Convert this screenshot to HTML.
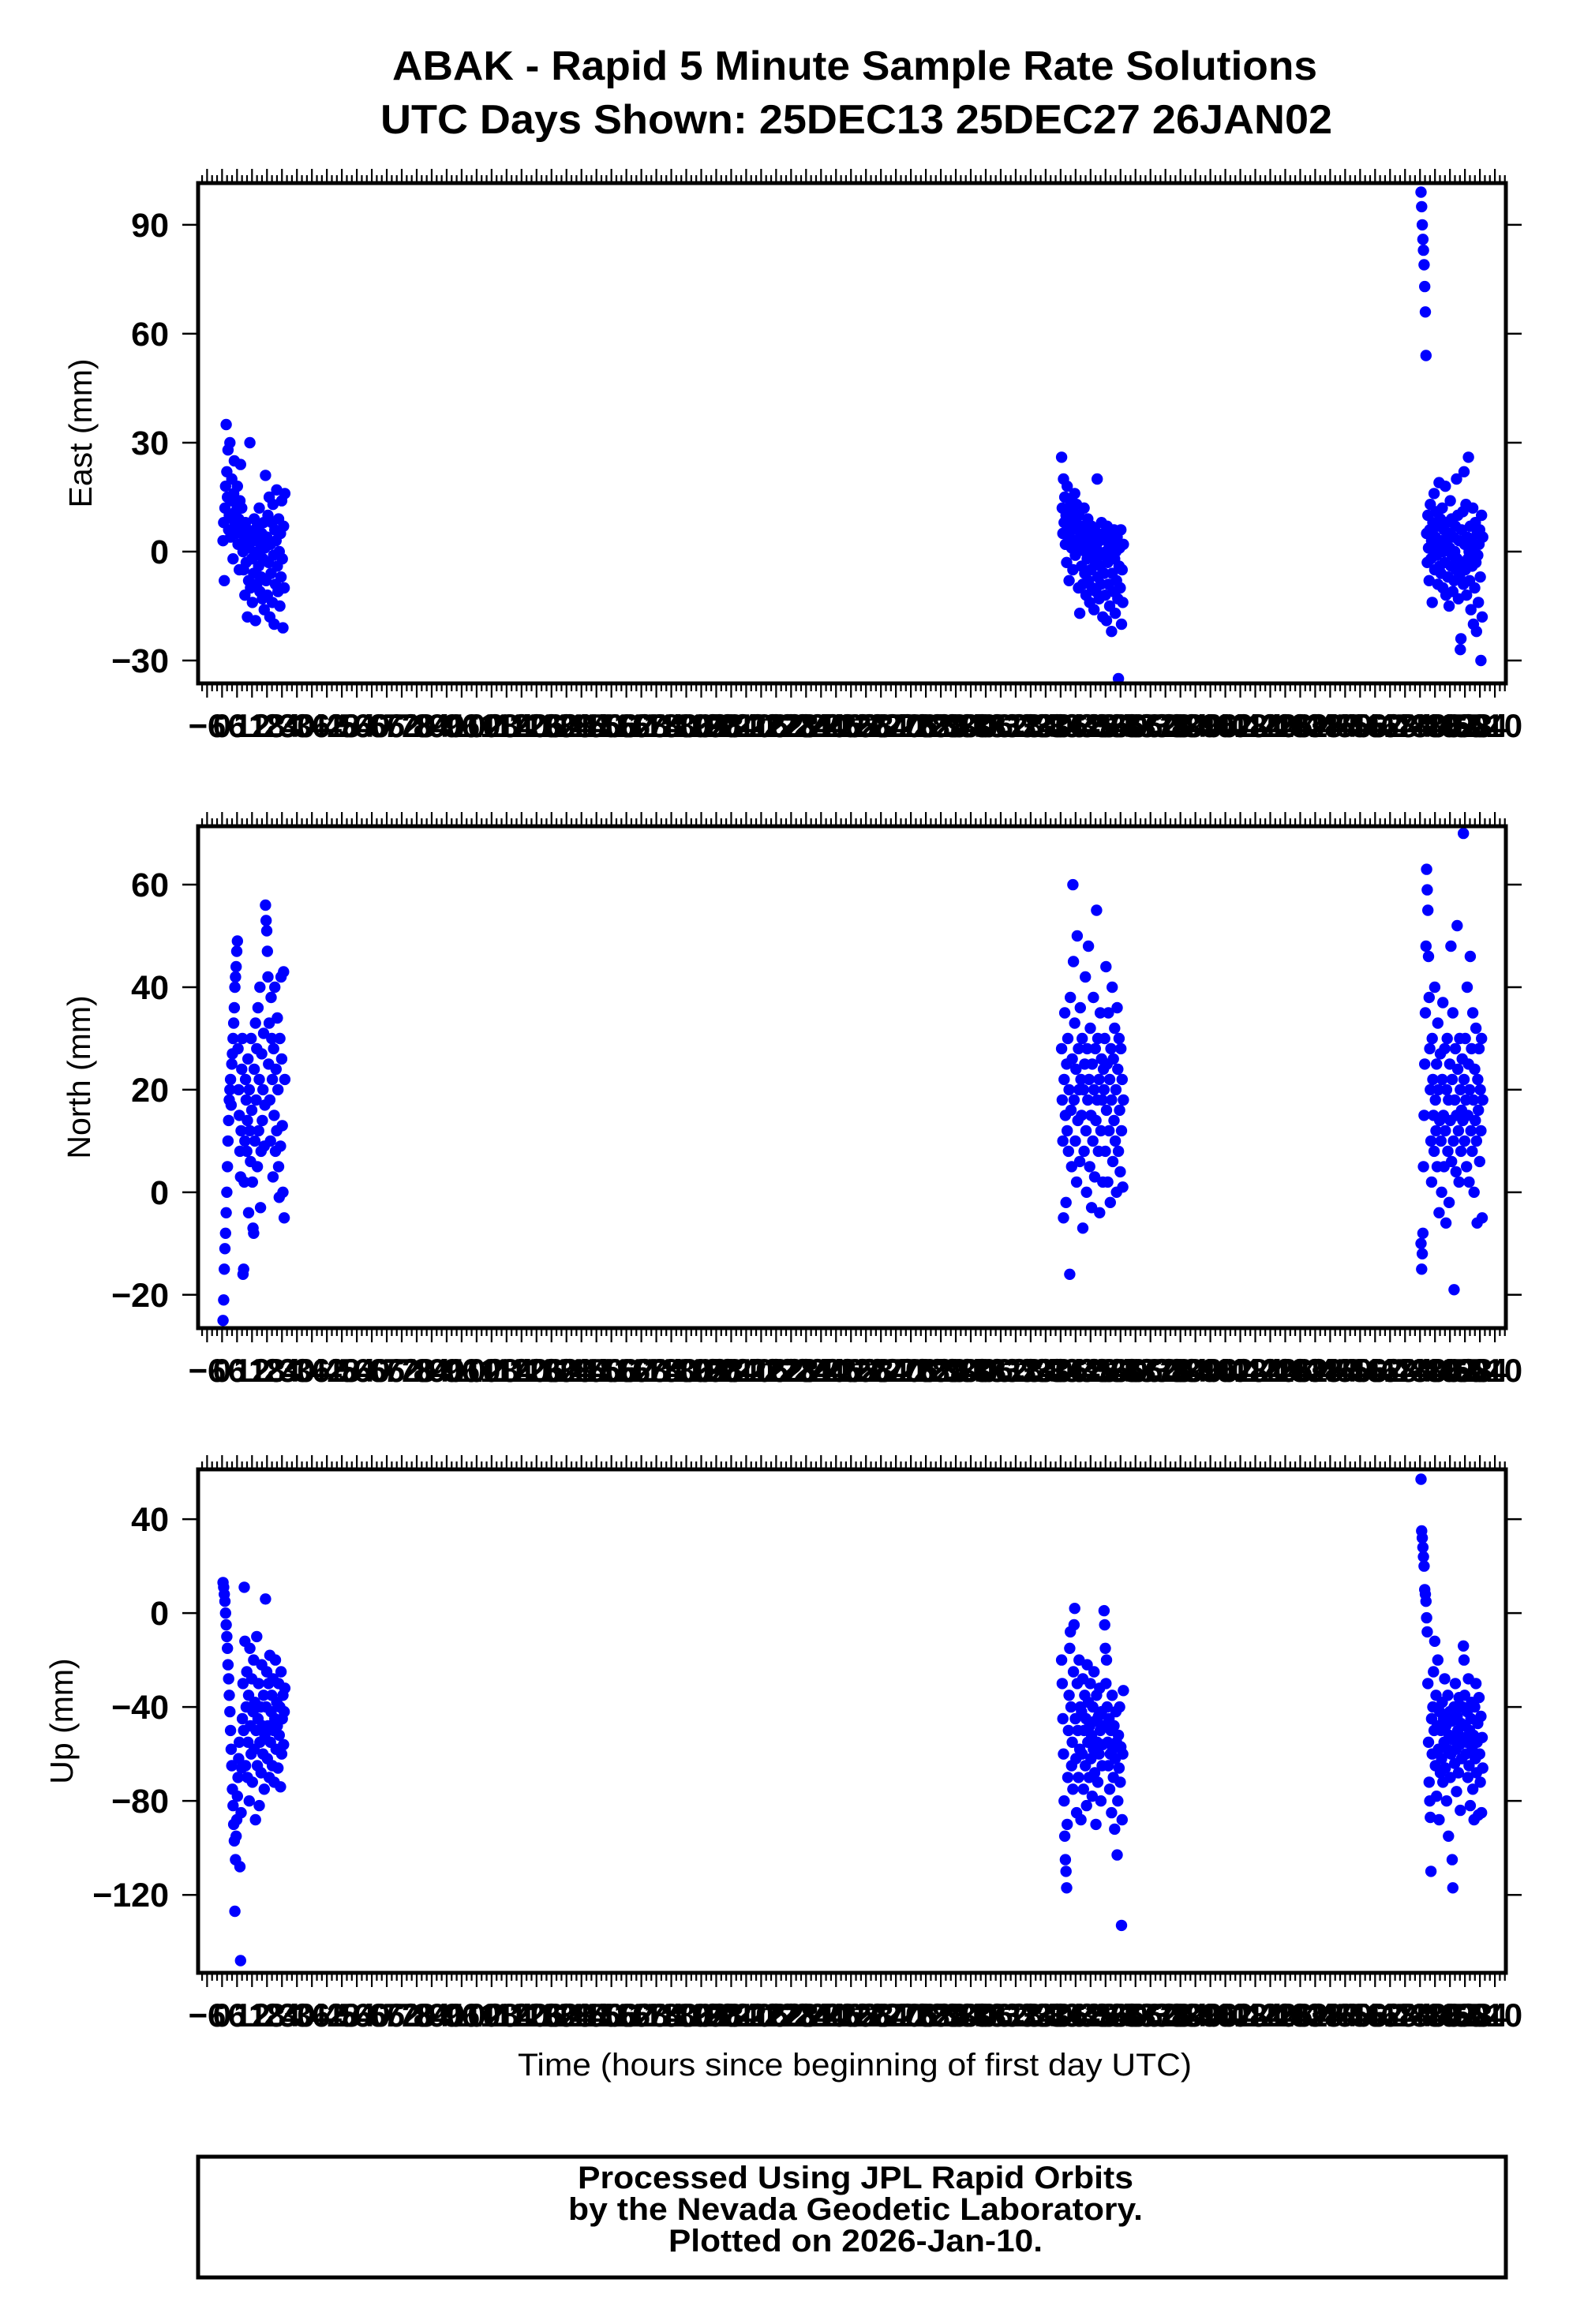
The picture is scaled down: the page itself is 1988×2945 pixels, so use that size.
<!DOCTYPE html>
<html><head><meta charset="utf-8"><title>ABAK Rapid 5 Minute Solutions</title>
<style>
html,body{margin:0;padding:0;background:#fff;}
svg{display:block;}
text{font-family:"Liberation Sans",Arial,sans-serif;fill:#000;}
</style></head>
<body>
<svg id="chart" width="1988" height="2945" viewBox="0 0 1988 2945" xmlns="http://www.w3.org/2000/svg">
<rect x="0" y="0" width="1988" height="2945" fill="#fff"/>
<text x="1083" y="101" text-anchor="middle" font-size="52" font-weight="bold" textLength="1172" lengthAdjust="spacingAndGlyphs">ABAK - Rapid 5 Minute Sample Rate Solutions</text>
<text x="1085" y="169" text-anchor="middle" font-size="52" font-weight="bold" textLength="1206" lengthAdjust="spacingAndGlyphs">UTC Days Shown:  25DEC13 25DEC27 26JAN02</text>
<g id="panels"></g>
<text x="1083" y="2630" text-anchor="middle" font-size="40" textLength="854" lengthAdjust="spacingAndGlyphs">Time (hours since beginning of first day UTC)</text>
<rect x="251" y="2733" width="1657" height="153" fill="none" stroke="#000" stroke-width="5"/>
<text x="1084" y="2773" text-anchor="middle" font-size="40" font-weight="bold" textLength="704" lengthAdjust="spacingAndGlyphs">Processed Using JPL Rapid Orbits</text>
<text x="1084" y="2813" text-anchor="middle" font-size="40" font-weight="bold" textLength="728" lengthAdjust="spacingAndGlyphs">by the Nevada Geodetic Laboratory.</text>
<text x="1084" y="2853" text-anchor="middle" font-size="40" font-weight="bold" textLength="474" lengthAdjust="spacingAndGlyphs">Plotted on 2026-Jan-10.</text>
</svg>
<script>
// Day start offsets (hours since first day) for the three UTC days
const dayStarts = [0, 336, 480];
const sampleStepHours = 0.25;
// East (mm) per day
const eastDay1 = [3,8,-8,12,18,35,22,15,28,6,10,30,4,14,20,9,-2,16,25,7,11,5,13,18,2,9,-5,14,24,6,12,8,
0,-5,4,-12,8,-3,2,-18,6,-8,1,30,-10,5,-2,-14,3,-6,9,-1,-19,4,-9,7,0,-4,12,-11,2,-7,5,-13,-2,8,-16,1,
21,-8,4,-12,10,-3,15,-18,2,-6,8,-14,13,-1,-20,6,-9,3,17,-4,-11,9,0,-15,5,-7,14,-2,-21,7,-10,16];
const eastDay2 = [26,12,5,20,8,15,2,10,-3,18,6,12,-8,4,14,9,1,7,-5,11,3,16,-1,8,13,0,6,-10,10,-17,4,2,
-4,7,-9,2,12,-6,0,-12,5,-2,9,-8,3,-14,1,-5,7,-10,-1,4,-16,6,-3,-11,2,20,-7,0,-13,3,-4,-9,8,-1,-18,5,
-6,4,-12,0,-19,7,-3,-9,2,-15,-1,5,-22,-6,3,-11,6,-2,-17,0,-8,4,-13,-35,-4,1,-10,6,-20,-5,-14,2];
const eastDay3 = [99,95,90,86,83,79,73,66,54,5,-3,10,1,-8,6,13,-2,3,-14,8,0,16,-5,4,11,-1,7,-9,2,19,-4,9,
-6,3,12,-10,0,6,-3,18,-12,2,8,-7,5,-15,1,14,-4,9,-1,-11,4,-8,0,7,-5,20,-2,10,-13,3,-7,-27,-24,6,-3,11,
-9,22,2,-5,13,-12,4,-2,26,0,-8,7,-16,3,-4,12,-20,1,-10,8,-3,-22,5,-1,-14,2,6,-7,-30,10,-18,4];
// North (mm) per day
const northDay1 = [-25,-21,-15,-11,-8,-4,0,5,10,14,18,20,22,17,25,27,30,33,36,40,42,44,47,49,28,20,15,8,3,12,24,30,
-16,-15,2,10,22,18,8,14,26,-4,20,12,6,30,16,2,-7,-8,24,10,33,18,28,5,36,12,22,40,-3,8,27,14,20,31,9,17,
56,53,51,47,42,25,33,18,10,38,30,22,3,28,15,40,8,24,12,34,20,5,-1,30,9,42,26,13,0,43,-5,22];
const northDay2 = [28,18,10,-5,22,35,15,-2,25,12,30,8,20,-16,38,16,5,26,60,45,18,33,10,24,2,50,14,28,20,6,36,22,
15,30,-7,20,8,25,42,12,0,28,18,48,22,5,32,15,-3,25,10,38,20,3,28,14,55,18,30,8,22,-4,35,12,26,18,2,24,
20,30,8,44,16,25,2,35,12,22,-2,28,18,40,6,26,14,32,10,20,0,36,24,8,30,16,4,28,12,22,1,18];
const northDay3 = [-10,-15,-12,-8,5,15,25,35,48,63,59,55,46,38,28,20,10,2,30,22,15,8,40,18,12,25,5,33,20,-4,14,27,
10,0,22,37,15,5,28,12,-6,20,30,8,18,-2,25,14,48,6,22,35,10,-19,18,28,4,15,52,24,12,2,30,20,8,16,26,14,
70,22,10,30,18,5,40,15,25,2,20,46,12,28,8,35,18,0,24,14,32,10,-6,22,16,28,6,20,12,30,-5,18];
// Up (mm) per day
const upDay1 = [13,11,8,5,0,-5,-10,-15,-22,-28,-35,-42,-50,-58,-65,-75,-82,-90,-97,-127,-105,-95,-88,-78,-70,-62,-55,-108,-148,-85,-66,-45,
-30,-50,11,-12,-65,-40,-25,-70,-55,-35,-80,-15,-48,-60,-28,-72,-42,-20,-58,-38,-88,-50,-10,-65,-45,-30,-82,-55,-40,-68,-22,-48,-60,-35,-75,-52,
6,-40,-25,-62,-48,-30,-70,-18,-55,-42,-35,-65,-28,-50,-72,-45,-20,-58,-38,-48,-66,-30,-52,-40,-74,-25,-60,-45,-35,-56,-42,-32];
const upDay2 = [-20,-30,-45,-60,-80,-95,-105,-110,-117,-90,-70,-50,-35,-15,-8,-40,-65,-55,-75,-25,-5,2,-45,-62,-85,-30,-50,-70,-20,-58,-40,-88,
-42,-60,-28,-75,-50,-35,-65,-45,-82,-22,-55,-38,-70,-48,-30,-62,-52,-78,-40,-58,-25,-68,-46,-90,-35,-55,-72,-44,-60,-32,-50,-80,-42,-65,-56,-48,
1,-5,-15,-30,-20,-40,-55,-65,-45,-75,-60,-50,-85,-35,-58,-70,-48,-92,-62,-42,-55,-103,-80,-52,-66,-40,-72,-57,-133,-88,-60,-33];
const upDay3 = [57,35,32,28,24,20,10,8,5,-2,-8,-30,-55,-72,-80,-87,-110,-45,-60,-40,-25,-50,-12,-65,-35,-78,-48,-20,-58,-88,-42,-68,
-50,-62,-38,-72,-45,-55,-28,-66,-48,-80,-58,-35,-95,-52,-42,-70,-60,-46,-105,-117,-54,-40,-64,-30,-58,-76,-44,-50,-68,-36,-56,-84,-47,-62,-40,-53,
-14,-20,-35,-48,-60,-55,-42,-70,-28,-65,-50,-82,-45,-38,-58,-75,-52,-88,-40,-62,-30,-68,-55,-47,-86,-36,-60,-72,-44,-85,-53,-66];
// Axis tick values
const eastTicks = [-30,0,30,60,90];
const northTicks = [-20,0,20,40,60];
const upTicks = [-120,-80,-40,0,40];
const xLabelTicks = [];
for (let h = -6; h <= 510; h += 6) xLabelTicks.push(h);

const NS = "http://www.w3.org/2000/svg";
const X0 = 251, X1 = 1908, XMIN = -9.6, XMAX = 514.4;
function xScale(h){ return X0 + (h - XMIN) / (XMAX - XMIN) * (X1 - X0); }
function mk(tag, attrs, parent){ const e = document.createElementNS(NS, tag); for (const k in attrs) e.setAttribute(k, attrs[k]); parent.appendChild(e); return e; }

const panelsG = document.getElementById('panels');
const panels = [
  {key:'east', label:'East (mm)', top:232, bottom:866, min:-36.3, max:101.5, ticks:eastTicks, days:[eastDay1,eastDay2,eastDay3], labelX:102},
  {key:'north', label:'North (mm)', top:1047, bottom:1683, min:-26.5, max:71.4, ticks:northTicks, days:[northDay1,northDay2,northDay3], labelX:100},
  {key:'up', label:'Up (mm)', top:1862, bottom:2500, min:-153.2, max:61.2, ticks:upTicks, days:[upDay1,upDay2,upDay3], labelX:78}
];

panels.forEach(p => {
  const g = mk('g', {}, panelsG);
  
  
  const yS = v => p.bottom - (v - p.min) / (p.max - p.min) * (p.bottom - p.top);
  const pts = mk('g', {fill:'#0000ff'}, g);
  
  
  p.days.forEach((arr, d) => {
    arr.forEach((v, i) => {
      const c = mk('circle', {cx: xScale(dayStarts[d] + i * sampleStepHours + 0.4).toFixed(1), cy: yS(v).toFixed(1), r: 7.2}, pts);
      
      
    });
  });
  const fr = mk('rect', {x:X0, y:p.top, width:X1-X0, height:p.bottom-p.top, fill:'none', stroke:'#000', 'stroke-width':5}, g);
  
  
  const yax = mk('g', {}, g);
  
  
  p.ticks.forEach(t => {
    const y = yS(t);
    mk('line', {x1:231, x2:X0, y1:y, y2:y, stroke:'#000', 'stroke-width':2.5}, yax);
    mk('line', {x1:X1, x2:1928, y1:y, y2:y, stroke:'#000', 'stroke-width':2.5}, yax);
    const tx = mk('text', {x:214, y:y+15, 'text-anchor':'end', 'font-size':43, 'font-weight':'bold'}, yax);
    
    
    tx.textContent = t < 0 ? '\u2212' + Math.abs(t) : String(t);
  });
  const yl = mk('text', {x:p.labelX, y:(p.top+p.bottom)/2, 'text-anchor':'middle', 'font-size':41, transform:'rotate(-90 '+(p.labelX)+' '+((p.top+p.bottom)/2)+') translate(0 14)'}, g);
  
  
  yl.textContent = p.label;
  const xax = mk('g', {stroke:'#000', 'stroke-width':2.2}, g);
  
  
  for (let h = -8; h <= 514; h += 2) {
    const x = xScale(h);
    const long = ((h % 6) + 6) % 6 === 0;
    const L = long ? 16 : 8;
    mk('line', {x1:x, x2:x, y1:p.bottom+2, y2:p.bottom+2+L}, xax);
    mk('line', {x1:x, x2:x, y1:p.top-2, y2:p.top-2-L}, xax);
  }
  const lbls = mk('g', {}, g);
  
  
  xLabelTicks.forEach(h => {
    const t = mk('text', {x:xScale(h), y:p.bottom+68, 'text-anchor':'middle', 'font-size':42, 'font-weight':'bold'}, lbls);
    
    
    t.textContent = h < 0 ? '\u2212' + Math.abs(h) : String(h);
  });
});
</script>
</body></html>
